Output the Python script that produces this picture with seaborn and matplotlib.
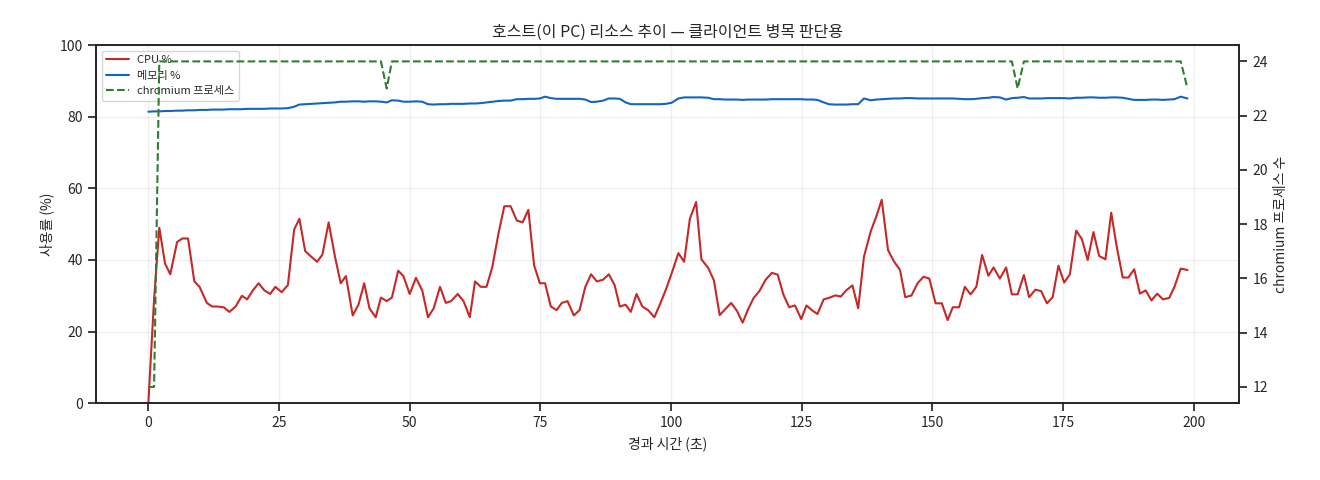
import numpy as np
import pandas as pd
import seaborn as sns
import matplotlib.pyplot as plt

# 경과 시간(초) / CPU % / 메모리 % / chromium 프로세스 수
elapsed = [0, 1.1, 2.1, 3.2, 4.2, 5.5, 6.5, 7.6, 8.8, 9.8,
           11.2, 12.2, 13.2, 14.4, 15.5, 16.7, 17.9, 18.9, 20.0, 21.1,
           22.2, 23.3, 24.3, 25.5, 26.7, 27.9, 28.9, 30.0, 31.1, 32.3,
           33.3, 34.5, 35.7, 36.8, 37.8, 39.1, 40.2, 41.3, 42.3, 43.5,
           44.5, 45.6, 46.6, 47.8, 48.8, 50.0, 51.2, 52.4, 53.5, 54.6,
           55.8, 56.9, 57.9, 59.2, 60.3, 61.5, 62.5, 63.6, 64.7, 65.8,
           67.0, 68.1, 69.3, 70.5, 71.6, 72.7, 73.8, 74.9, 75.9, 77.0,
           78.1, 79.1, 80.2, 81.4, 82.5, 83.6, 84.7, 85.8, 87.0, 88.1,
           89.2, 90.2, 91.3, 92.3, 93.4, 94.5, 95.6, 96.8, 97.9, 99.0,
           100.1, 101.4, 102.5, 103.6, 104.8, 105.8, 107.1, 108.2, 109.3, 110.4,
           111.5, 112.6, 113.7, 114.7, 115.8, 116.9, 118.1, 119.3, 120.4, 121.5,
           122.6, 123.7, 124.9, 125.9, 127.1, 128.0, 129.2, 130.2, 131.4, 132.5,
           133.5, 134.7, 135.8, 136.9, 138.2, 139.3, 140.3, 141.5, 142.6, 143.8,
           144.8, 146.0, 147.2, 148.3, 149.4, 150.6, 151.8, 152.9, 153.9, 155.1,
           156.2, 157.3, 158.4, 159.5, 160.7, 161.7, 162.9, 164.1, 165.2, 166.3,
           167.5, 168.5, 169.7, 170.8, 171.9, 173.0, 174.1, 175.2, 176.3, 177.5,
           178.6, 179.7, 180.8, 181.9, 183.1, 184.2, 185.2, 186.4, 187.5, 188.6,
           189.7, 190.8, 191.9, 193.0, 194.1, 195.3, 196.3, 197.5, 198.8]

cpu = [0, 29, 49, 39, 36, 45, 46, 46, 34, 32.5,
       28, 27, 27, 26.8, 25.5, 27, 30, 29, 31.5, 33.5,
       31.5, 30.5, 32.5, 31, 33, 48.5, 51.5, 42.5, 41, 39.5,
       41.5, 50.5, 41, 33.5, 35.5, 24.5, 27.5, 33.5, 26.5, 24,
       29.5, 28.5, 29.5, 37, 35.5, 30.5, 35, 31.5, 24, 26.5,
       32.5, 28, 28.5, 30.5, 28.5, 24, 34, 32.5, 32.5, 38,
       47.5, 55, 55, 51, 50.5, 54, 38.5, 33.5, 33.5, 27,
       26, 28, 28.5, 24.5, 26, 32.5, 36, 34, 34.5, 36,
       33, 27, 27.5, 25.5, 30.5, 27, 26, 24, 27.7, 31.7,
       36.2, 41.9, 39.5, 51.5, 56.2, 40.2, 37.8, 34.3, 24.6, 26.3,
       28.0, 25.8, 22.5, 26.1, 29.4, 31.3, 34.5, 36.4, 35.9, 30.3,
       26.8, 27.3, 23.5, 27.3, 25.8, 24.9, 29.0, 29.4, 30.1, 29.8,
       31.5, 32.9, 26.5, 40.9, 48.0, 52.3, 56.8, 42.8, 39.7, 37.2,
       29.6, 30.1, 33.6, 35.3, 34.8, 27.9, 27.9, 23.2, 26.8, 26.8,
       32.5, 30.4, 32.5, 41.4, 35.6, 37.9, 34.8, 37.9, 30.4, 30.4,
       35.8, 29.6, 31.7, 31.3, 27.9, 29.6, 38.4, 33.7, 36.0, 48.2,
       45.8, 40.0, 47.8, 41.1, 40.2, 53.2, 44.2, 35.1, 35.1, 37.4,
       30.6, 31.5, 28.7, 30.6, 29.0, 29.4, 32.5, 37.6, 37.2]

memory = [81.4, 81.5, 81.5, 81.6, 81.6, 81.7, 81.7, 81.8, 81.8, 81.9,
          81.9, 82.0, 82.0, 82.0, 82.1, 82.1, 82.1, 82.2, 82.2, 82.2,
          82.2, 82.3, 82.3, 82.3, 82.4, 82.8, 83.4, 83.5, 83.6, 83.7,
          83.8, 83.9, 84.0, 84.2, 84.2, 84.3, 84.3, 84.2, 84.3, 84.3,
          84.2, 84.0, 84.6, 84.5, 84.2, 84.2, 84.3, 84.2, 83.5, 83.4,
          83.5, 83.5, 83.6, 83.6, 83.6, 83.7, 83.7, 83.8, 84.0, 84.2,
          84.4, 84.5, 84.5, 84.9, 84.9, 85.0, 85.0, 85.1, 85.6, 85.2,
          85.0, 85.0, 85.0, 85.0, 85.0, 84.8, 84.1, 84.2, 84.5, 85.1,
          85.1, 85.0, 84.0, 83.5, 83.5, 83.5, 83.5, 83.5, 83.5, 83.6,
          83.9, 85.1, 85.4, 85.4, 85.4, 85.4, 85.3, 84.9, 84.9, 84.8,
          84.8, 84.8, 84.7, 84.8, 84.8, 84.8, 84.8, 84.9, 84.9, 84.9,
          84.9, 84.9, 84.9, 84.8, 84.8, 84.7, 84.0, 83.5, 83.4, 83.4,
          83.4, 83.5, 83.5, 85.1, 84.6, 84.8, 84.9, 85.0, 85.1, 85.1,
          85.2, 85.2, 85.1, 85.1, 85.1, 85.1, 85.1, 85.1, 85.1, 85.0,
          84.9, 84.9, 85.0, 85.2, 85.3, 85.5, 85.4, 84.8, 85.2, 85.3,
          85.5, 85.1, 85.1, 85.1, 85.2, 85.2, 85.2, 85.2, 85.1, 85.3,
          85.3, 85.4, 85.4, 85.3, 85.3, 85.4, 85.4, 85.3, 85.0, 84.7,
          84.7, 84.7, 84.8, 84.8, 84.7, 84.8, 84.9, 85.6, 85.1]

chromium = [12, 12, 24, 24, 24, 24, 24, 24, 24, 24, 24, 24, 24, 24, 24, 24, 24, 24, 24, 24,
            24, 24, 24, 24, 24, 24, 24, 24, 24, 24, 24, 24, 24, 24, 24, 24, 24, 24, 24, 24,
            24, 23, 24, 24, 24, 24, 24, 24, 24, 24, 24, 24, 24, 24, 24, 24, 24, 24, 24, 24,
            24, 24, 24, 24, 24, 24, 24, 24, 24, 24, 24, 24, 24, 24, 24, 24, 24, 24, 24, 24,
            24, 24, 24, 24, 24, 24, 24, 24, 24, 24, 24, 24, 24, 24, 24, 24, 24, 24, 24, 24,
            24, 24, 24, 24, 24, 24, 24, 24, 24, 24, 24, 24, 24, 24, 24, 24, 24, 24, 24, 24,
            24, 24, 24, 24, 24, 24, 24, 24, 24, 24, 24, 24, 24, 24, 24, 24, 24, 24, 24, 24,
            24, 24, 24, 24, 24, 24, 24, 24, 24, 23, 24, 24, 24, 24, 24, 24, 24, 24, 24, 24,
            24, 24, 24, 24, 24, 24, 24, 24, 24, 24, 24, 24, 24, 24, 24, 24, 24, 24, 23]

df = pd.DataFrame({"t": elapsed, "cpu": cpu, "mem": memory, "proc": chromium})

sns.set_theme(style="ticks")
plt.rcParams['font.family'] = ['Noto Sans CJK KR', 'DejaVu Sans']
plt.rcParams['axes.unicode_minus'] = False
plt.rcParams['xtick.labelsize'] = 10
plt.rcParams['ytick.labelsize'] = 10

fig, ax = plt.subplots(figsize=(13.2, 4.8), dpi=100)
fig.subplots_adjust(left=0.073, right=0.939, top=0.906, bottom=0.16)

sns.lineplot(data=df, x="t", y="cpu", ax=ax, color="#c62828", lw=1.5, label="CPU %")
sns.lineplot(data=df, x="t", y="mem", ax=ax, color="#1565c0", lw=1.5, label="메모리 %")
ax.set_ylim(0, 100)
ax.set_xlabel("경과 시간 (초)", fontsize=10)
ax.set_ylabel("사용률 (%)", fontsize=10)
ax.grid(True, alpha=0.3)
ax.set_title("호스트(이 PC) 리소스 추이 — 클라이언트 병목 판단용", fontsize=11.5)

ax2 = ax.twinx()
sns.lineplot(data=df, x="t", y="proc", ax=ax2, color="#2e7d32", lw=1.5,
             linestyle="--", label="chromium 프로세스", legend=False)
ax2.set_ylabel("chromium 프로세스 수", fontsize=10)

h1, lab1 = ax.get_legend_handles_labels()
h2, lab2 = ax2.get_legend_handles_labels()
ax.legend(h1 + h2, lab1 + lab2, loc="upper left", fontsize=8)

fig.savefig("out.png", dpi=100)
